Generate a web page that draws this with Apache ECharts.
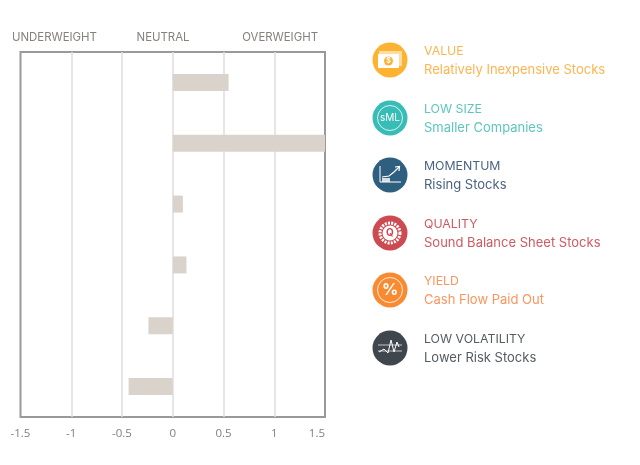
<!DOCTYPE html>
<html><head><meta charset="utf-8">
<script src="https://cdn.jsdelivr.net/npm/echarts@6/dist/echarts.min.js"></script>
<style>html,body{margin:0;padding:0;background:#fff}#c{width:640px;height:465px}</style>
</head><body><div id="c"></div>
<script>
const factors = ['VALUE','LOW SIZE','MOMENTUM','QUALITY','YIELD','LOW VOLATILITY'];
const descriptions = ['Relatively Inexpensive Stocks','Smaller Companies','Rising Stocks','Sound Balance Sheet Stocks','Cash Flow Paid Out','Lower Risk Stocks'];
const tilts = [0.55,1.5,0.1,0.135,-0.24,-0.435];
const headers = ['UNDERWEIGHT','NEUTRAL','OVERWEIGHT'];
const iconColors = ['#FDB232','#38BDB6','#2F5F7E','#CC4A51','#F98A30','#3F464E'];
const textColors = ['#FDB551','#5CC6BF','#4A6480','#CF5A62','#FA9560','#555C63'];
const FONT = 'Inter, "Open Sans", sans-serif';
const W = '#fff';

function line(pts, w){ return {type:'polyline',shape:{points:pts},style:{stroke:W,lineWidth:w||1,fill:null}}; }
const glyphs = [
 [ {type:'rect',shape:{x:-11,y:-9,width:23,height:15},style:{fill:'rgba(255,255,255,.55)'}},
   {type:'rect',shape:{x:-12,y:-6,width:21,height:14},style:{fill:W}},
   {type:'circle',shape:{cx:-1.5,cy:1,r:4.5},style:{fill:iconColors[0]}},
   {type:'text',style:{x:-1.5,y:1,text:'$',fill:W,font:'bold 7px '+FONT,align:'center',verticalAlign:'middle'}} ],
 [ {type:'circle',shape:{cx:0,cy:0,r:12.5},style:{stroke:'rgba(255,255,255,.8)',lineWidth:1,fill:null}},
   {type:'text',style:{x:0,y:0,text:'sML',fill:W,font:'10px '+FONT,align:'center',verticalAlign:'middle'}} ],
 [ line([[-10,-9],[-10,7],[11,7]],1),
   {type:'rect',shape:{x:-8,y:3,width:8,height:4},style:{fill:'rgba(255,255,255,.8)'}},
   line([[-8,2],[-1,1],[4,-3],[9,-8]],1.2),
   line([[5,-8],[9.5,-8.5],[9,-4]],1.2) ],
 [ {type:'circle',shape:{cx:0,cy:0,r:10},style:{stroke:W,lineWidth:3,lineDash:[2,1.2],fill:null}},
   {type:'circle',shape:{cx:0,cy:0,r:7.5},style:{fill:W}},
   {type:'text',style:{x:0,y:0,text:'Q',fill:iconColors[3],font:'bold 10px '+FONT,align:'center',verticalAlign:'middle'}} ],
 [ {type:'circle',shape:{cx:0,cy:0,r:12.5},style:{stroke:'rgba(255,255,255,.85)',lineWidth:1,fill:null}},
   {type:'text',style:{x:0,y:0,text:'%',fill:W,font:'bold 16px '+FONT,align:'center',verticalAlign:'middle'}} ],
 [ line([[-12,-3],[12,-3]],.7), line([[-12,3],[12,3]],.7),
   line([[-11,4],[-6,1],[-2,5],[1,-8],[4,4],[7,-6],[9,-1]],1) ]
];
const ys = [60,118,175,233,290,348];
const graphic = [];
factors.forEach((f,i)=>{
  graphic.push({type:'group',x:390,y:ys[i],children:[
    {type:'circle',shape:{cx:0,cy:0,r:17.5},style:{fill:iconColors[i]}},...glyphs[i]]});
  graphic.push({type:'text',x:424,y:ys[i]-9,style:{text:f,fill:textColors[i],font:'12.3px '+FONT,verticalAlign:'middle'}});
  graphic.push({type:'text',x:424,y:ys[i]+10,style:{text:descriptions[i],fill:textColors[i],font:'13px '+FONT,verticalAlign:'middle'}});
});
[[12,'left'],[163,'center'],[318,'right']].forEach((h,i)=>{
  graphic.push({type:'text',x:h[0],y:38,style:{text:headers[i],fill:'#85817D',font:'11.4px '+FONT,align:h[1],verticalAlign:'middle'}});
});

const chart = echarts.init(document.getElementById('c'),null,{renderer:'canvas'});
chart.setOption({
  animation:false,
  grid:{left:20.5,right:315,top:52,bottom:48,show:true,borderColor:'#999',borderWidth:2},
  xAxis:{type:'value',min:-1.5,max:1.5,interval:0.5,
    axisLine:{show:false},axisTick:{show:false},
    splitLine:{show:true,showMinLine:false,showMaxLine:false,lineStyle:{color:'#DEDEDE',width:1.5}},
    axisLabel:{color:'#808080',fontSize:11.5,fontFamily:'"Open Sans"',margin:11,alignMaxLabel:'right'}},
  yAxis:{type:'category',inverse:true,data:factors,axisLine:{show:false},axisTick:{show:false},axisLabel:{show:false},splitLine:{show:false}},
  series:[{type:'bar',data:tilts,barWidth:17,itemStyle:{color:'#D9D3CC'}}],
  graphic:graphic
});
</script></body></html>
